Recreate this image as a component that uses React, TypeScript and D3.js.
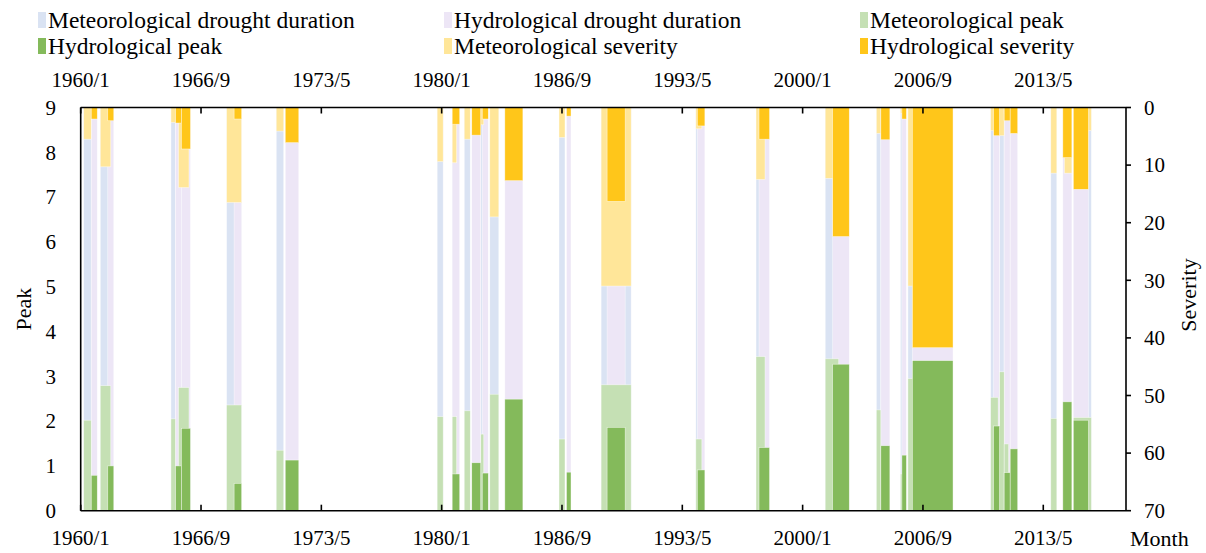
import React from "react";
import * as d3 from "d3";

// Drought events: start month, length in months, peak and severity
const metStart = ["1960/3", "1961/2", "1965/1", "1965/6", "1968/2", "1970/11", "1979/10", "1980/8", "1981/4", "1982/3", "1982/9", "1986/7", "1988/11", "1994/2", "1997/6", "2001/4", "2004/2", "2005/6", "2005/11", "2010/6", "2010/12", "2011/3", "2013/10", "2014/7", "2015/1"];
const metDuration = [5, 7, 3, 7, 10, 5, 4, 3, 4, 2, 6, 4, 20, 4, 6, 9, 3, 2, 4, 5, 3, 3, 4, 5, 12];
const metPeak = [2.02, 2.79, 2.05, 2.75, 2.36, 1.35, 2.1, 2.1, 2.23, 1.71, 2.6, 1.6, 2.81, 1.6, 3.44, 3.39, 2.25, 0.82, 2.95, 2.53, 3.1, 1.49, 2.06, 2.08, 2.08];
const metSeverity = [5.5, 10.3, 2.6, 13.9, 16.5, 4.1, 9.4, 9.6, 5.5, 3.0, 19.0, 5.2, 31.0, 3.7, 12.5, 12.3, 4.5, 1.0, 31.0, 4.0, 4.9, 1.0, 11.4, 11.4, 4.0];

const hydStart = ["1960/8", "1961/7", "1965/4", "1965/8", "1968/7", "1971/5", "1980/8", "1981/9", "1982/4", "1983/7", "1986/12", "1989/3", "1994/3", "1997/8", "2001/9", "2004/5", "2005/7", "2006/2", "2010/8", "2011/3", "2011/7", "2014/6", "2015/1"];
const hydDuration = [4, 4, 4, 6, 5, 9, 5, 6, 4, 12, 3, 12, 5, 7, 11, 6, 3, 27, 4, 4, 5, 6, 10];
const hydPeak = [0.79, 1.0, 1.0, 1.84, 0.61, 1.13, 0.82, 1.07, 0.84, 2.49, 0.86, 1.86, 0.91, 1.41, 3.27, 1.45, 1.24, 3.35, 1.89, 0.85, 1.38, 2.43, 2.02];
const hydSeverity = [2.0, 2.3, 2.7, 7.2, 2.0, 6.1, 2.9, 4.8, 2.0, 12.7, 1.5, 16.3, 3.2, 5.5, 22.4, 5.6, 2.0, 41.7, 4.9, 2.3, 4.5, 8.7, 14.2];

const monthTicks = ["1960/1", "1966/9", "1973/5", "1980/1", "1986/9", "1993/5", "2000/1", "2006/9", "2013/5"];
const peakTicks = [0, 1, 2, 3, 4, 5, 6, 7, 8, 9];
const severityTicks = [0, 10, 20, 30, 40, 50, 60, 70];

const legendLabels = [
  "Meteorological drought duration",
  "Hydrological drought duration",
  "Meteorological peak",
  "Hydrological peak",
  "Meteorological severity",
  "Hydrological severity",
];

const C = {
  metDur: "#dae3f3",
  hydDur: "#ede6f6",
  metPeak: "#c5e0b4",
  hydPeak: "#84ba5b",
  metSev: "#ffe699",
  hydSev: "#ffc61a",
};
const legendColors = [C.metDur, C.hydDur, C.metPeak, C.hydPeak, C.metSev, C.hydSev];

const W = 1206;
const H = 553;
const FONT = "'Liberation Serif', 'Times New Roman', serif";

const toIndex = (s: string) => {
  const [y, m] = s.split("/").map(Number);
  return (y - 1960) * 12 + (m - 1);
};

const plot = { left: 80.7, right: 1126, top: 107.5, bottom: 510.7 };

const x = d3.scaleLinear().domain([0, 695]).range([plot.left, plot.right]);
const yPeak = d3.scaleLinear().domain([0, 9]).range([plot.bottom, plot.top]);
const ySev = d3.scaleLinear().domain([0, 70]).range([plot.top, plot.bottom]);

type Ev = { s: number; e: number; peak: number; sev: number };
const metEvents: Ev[] = metStart.map((s, i) => ({
  s: toIndex(s),
  e: toIndex(s) + metDuration[i],
  peak: metPeak[i],
  sev: metSeverity[i],
}));
const hydEvents: Ev[] = hydStart.map((s, i) => ({
  s: toIndex(s),
  e: toIndex(s) + hydDuration[i],
  peak: hydPeak[i],
  sev: hydSeverity[i],
}));

const barStroke = { stroke: "#ffffff", strokeWidth: 0.6, strokeOpacity: 0.7 };

function DurationBars({ events, fill }: { events: Ev[]; fill: string }) {
  return (
    <g>
      {events.map((d, i) => (
        <rect key={i} x={x(d.s)} width={x(d.e) - x(d.s)} y={yPeak(9)} height={yPeak(0) - yPeak(9)} fill={fill} {...barStroke} />
      ))}
    </g>
  );
}

function PeakBars({ events, fill }: { events: Ev[]; fill: string }) {
  return (
    <g>
      {events.map((d, i) => (
        <rect key={i} x={x(d.s)} width={x(d.e) - x(d.s)} y={yPeak(d.peak)} height={yPeak(0) - yPeak(d.peak)} fill={fill} {...barStroke} />
      ))}
    </g>
  );
}

function SeverityBars({ events, fill }: { events: Ev[]; fill: string }) {
  return (
    <g>
      {events.map((d, i) => (
        <rect key={i} x={x(d.s)} width={x(d.e) - x(d.s)} y={ySev(0)} height={ySev(d.sev) - ySev(0)} fill={fill} {...barStroke} />
      ))}
    </g>
  );
}

export default function App() {
  const legendCols = [38, 444, 860];
  const legendRows = [20, 46];
  return (
    <svg width={W} height={H} style={{ position: "absolute", left: 0, top: 0, background: "#fff" }} fontFamily={FONT}>
      <rect width={W} height={H} fill="#fff" />

      {/* legend */}
      {legendLabels.map((label, i) => {
        const lx = legendCols[i % 3];
        const ly = legendRows[Math.floor(i / 3)];
        return (
          <g key={label}>
            <rect x={lx} y={ly - 8} width={8} height={16} fill={legendColors[i]} />
            <text x={lx + 10} y={ly} dy="0.35em" fontSize={23.5} fill="#000">
              {label}
            </text>
          </g>
        );
      })}

      {/* bars */}
      <DurationBars events={metEvents} fill={C.metDur} />
      <DurationBars events={hydEvents} fill={C.hydDur} />
      <PeakBars events={metEvents} fill={C.metPeak} />
      <PeakBars events={hydEvents} fill={C.hydPeak} />
      <SeverityBars events={metEvents} fill={C.metSev} />
      <SeverityBars events={hydEvents} fill={C.hydSev} />

      {/* frame */}
      <g stroke="#000" strokeWidth={1.6} fill="none">
        <line x1={plot.left} x2={plot.right} y1={plot.top} y2={plot.top} />
        <line x1={plot.left} x2={plot.right} y1={plot.bottom} y2={plot.bottom} />
        <line x1={plot.left} x2={plot.left} y1={plot.top} y2={plot.bottom} />
        <line x1={plot.right} x2={plot.right} y1={plot.top} y2={plot.bottom} />
      </g>

      {/* month ticks, bottom and top */}
      {monthTicks.map((t) => {
        const px = x(toIndex(t));
        return (
          <g key={t}>
            <line x1={px} x2={px} y1={plot.bottom} y2={plot.bottom - 6} stroke="#000" strokeWidth={1.6} />
            <line x1={px} x2={px} y1={plot.top} y2={plot.top + 6} stroke="#000" strokeWidth={1.6} />
            <text x={px} y={538} dy="0.35em" textAnchor="middle" fontSize={21}>
              {t}
            </text>
            <text x={px} y={80} dy="0.35em" textAnchor="middle" fontSize={21}>
              {t}
            </text>
          </g>
        );
      })}

      {/* peak axis */}
      {peakTicks.map((t) => (
        <text key={t} x={56} y={yPeak(t)} dy="0.35em" textAnchor="end" fontSize={21}>
          {t}
        </text>
      ))}
      <text transform={`translate(23,${(plot.top + plot.bottom) / 2 + 0}) rotate(-90)`} textAnchor="middle" dy="0.35em" fontSize={22}>
        Peak
      </text>

      {/* severity axis */}
      {severityTicks.map((t) => (
        <g key={t}>
          <line x1={plot.right} x2={plot.right + 5} y1={ySev(t)} y2={ySev(t)} stroke="#000" strokeWidth={1.6} />
          <text x={1144} y={ySev(t)} dy="0.35em" textAnchor="start" fontSize={21}>
            {t}
          </text>
        </g>
      ))}
      <text transform={`translate(1188,${295}) rotate(-90)`} textAnchor="middle" dy="0.35em" fontSize={22}>
        Severity
      </text>
      <text x={1130} y={538} dy="0.35em" textAnchor="start" fontSize={22}>
        Month
      </text>
    </svg>
  );
}
